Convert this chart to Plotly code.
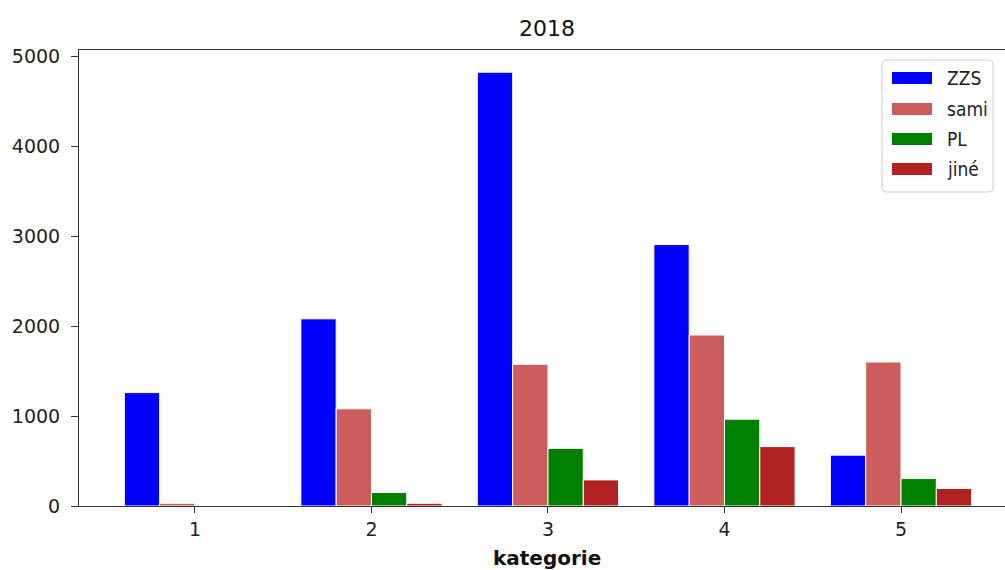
import plotly.graph_objects as go

categories = [1, 2, 3, 4, 5]
series_names = ["ZZS", "sami", "PL", "jiné"]
zzs = [1260, 2080, 4820, 2905, 565]
sami = [30, 1080, 1575, 1900, 1600]
pl = [0, 150, 640, 965, 305]
jine = [0, 30, 290, 660, 195]
colors = ["#0000ff", "#cd5c5c", "#008000", "#b22222"]
title_text = "2018"
x_label = "kategorie"

values = [zzs, sami, pl, jine]
bar_w = 0.2

# plot-area geometry in pixels
W, H = 1005, 570
L, R, T, B = 79, 0, 50, 64
PW, PH = W - L - R, H - T - B


def px(x):
    return (x - L) / PW


def py(y):
    return (H - B - y) / PH


fig = go.Figure()
for i, (name, vals, col) in enumerate(zip(series_names, values, colors)):
    fig.add_trace(go.Bar(
        x=categories, y=vals, name=name,
        width=bar_w, offset=-0.4 + bar_w * i,
        marker=dict(color=col, line=dict(color="white", width=1)),
        showlegend=False,
    ))

# legend frame with rounded corners
x0, x1, y0, y1, r = 882, 993, 60, 192, 4
path = (f"M{px(x0 + r)},{py(y0)} L{px(x1 - r)},{py(y0)} Q{px(x1)},{py(y0)} {px(x1)},{py(y0 + r)} "
        f"L{px(x1)},{py(y1 - r)} Q{px(x1)},{py(y1)} {px(x1 - r)},{py(y1)} "
        f"L{px(x0 + r)},{py(y1)} Q{px(x0)},{py(y1)} {px(x0)},{py(y1 - r)} "
        f"L{px(x0)},{py(y0 + r)} Q{px(x0)},{py(y0)} {px(x0 + r)},{py(y0)} Z")
shapes = [dict(type="path", xref="paper", yref="paper", path=path,
               fillcolor="rgba(255,255,255,0.85)", line=dict(color="#d0d0d0", width=1))]
annotations = []
row_y = [78, 109, 139, 169]
for name, col, ry in zip(series_names, colors, row_y):
    shapes.append(dict(type="rect", xref="paper", yref="paper",
                       x0=px(892), x1=px(932), y0=py(ry - 6), y1=py(ry + 6),
                       fillcolor=col, line=dict(width=0)))
    annotations.append(dict(xref="paper", yref="paper", x=px(945), y=py(ry),
                            xanchor="left", yanchor="middle", showarrow=False,
                            text=name,
                            font=dict(family="DejaVu Sans Condensed, DejaVu Sans, sans-serif",
                                      size=19, color="#222")))

# x-axis title
annotations.append(dict(xref="paper", yref="paper", x=px(547), y=py(558),
                        xanchor="center", yanchor="middle", showarrow=False,
                        text="<b>" + x_label + "</b>", font=dict(size=20, color="#111")))

font_family = "DejaVu Sans, sans-serif"
fig.update_layout(
    width=W, height=H,
    barmode="overlay",
    plot_bgcolor="white", paper_bgcolor="white",
    margin=dict(l=L, r=R, t=T, b=B),
    font=dict(family=font_family, size=19, color="#222"),
    title=dict(text=title_text, x=547 / W, xanchor="center",
               y=1 - 28 / H, yanchor="middle",
               font=dict(size=22, color="#111")),
    shapes=shapes,
    annotations=annotations,
)
fig.update_xaxes(
    range=[0.343, 1 + (W - L - 116) / 176.5],
    tickvals=categories, ticktext=[str(c) for c in categories],
    ticks="outside", ticklen=6, tickcolor="#333",
    showline=True, linecolor="#333", linewidth=1, mirror=True,
    showgrid=False, zeroline=False,
)
fig.update_yaxes(
    range=[0, (H - B - T) / 0.09],
    tickvals=[0, 1000, 2000, 3000, 4000, 5000],
    ticks="outside", ticklen=7, tickcolor="#333", ticklabelstandoff=7,
    showline=True, linecolor="#333", linewidth=1, mirror=False,
    showgrid=False, zeroline=False,
)

fig.write_html("out.html")
